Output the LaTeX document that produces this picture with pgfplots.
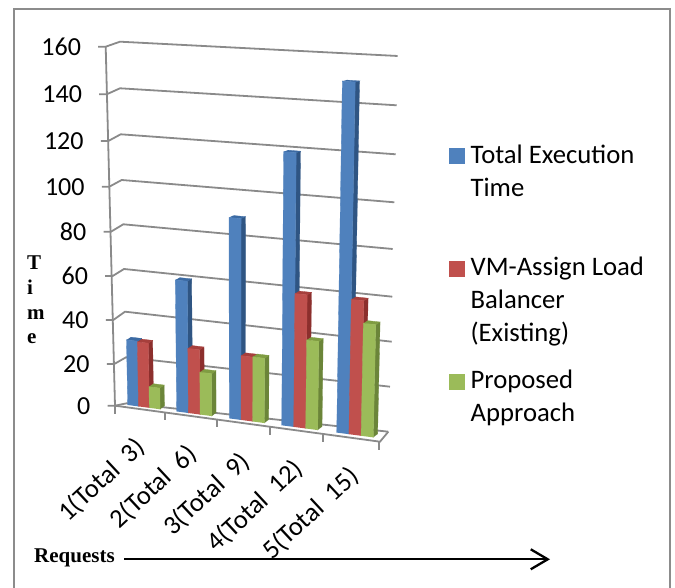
\documentclass[border=0pt]{standalone}
\usepackage{fontspec}
\setmainfont{Carlito}
\newfontfamily\labelfont{Liberation Serif}
\usepackage{pgfplots}
\usepackage{pgfplotstable}
\pgfplotsset{compat=1.18}
\usetikzlibrary{arrows.meta}

\definecolor{blueF}{HTML}{4F81BD}
\definecolor{blueS}{HTML}{2F5583}
\definecolor{blueT}{HTML}{3B6AA3}
\definecolor{redF}{HTML}{C0504D}
\definecolor{redS}{HTML}{8C2F2D}
\definecolor{redT}{HTML}{A63F3C}
\definecolor{greenF}{HTML}{9BBB59}
\definecolor{greenS}{HTML}{6B8539}
\definecolor{greenT}{HTML}{7F9C42}
\definecolor{frame}{HTML}{8C8C8C}
\definecolor{wall}{HTML}{8A8A8A}

% start, width: where each group stands on the floor, in px of the reference
\pgfplotstableread{
start width total vm proposed
127.7 10.8 28.8 28.5 9.3
176.7 11.7 57.7 28.3 18.5
229.3 11.7 87.4 27.9 28.0
281.7 12.0 118.0 57.4 38.0
336.7 12.2 150.2 57.5 47.9
}\bars

% px of the reference -> axis units
\newcommand\dx[1]{((#1)-88)/52}
\newcommand\dy[1]{(405.7-(#1))/2.25}
\newcommand\topt[3]{% name, X, Y
  \pgfmathsetmacro\tmpa{\dx{#2}}%
  \pgfmathsetmacro\tmpb{\dy{#3}}%
  \expandafter\xdef\csname #1\endcsname{(\tmpa,\tmpb)}%
}
% perspective of the 3d chart: floor X, value, depth 0/1
\newcommand\corner[4]{%
  \pgfmathsetmacro\Xb{#2}%
  \pgfmathsetmacro\Xt{\Xb+(-0.045+0.000385*(\Xb-120))*#3}%
  \pgfmathsetmacro\Yt{405+0.132*(\Xb-127.7)-(2.26+0.000388*(\Xb-127))*#3}%
  \pgfmathsetmacro\Xd{\Xt+4.3*#4}%
  \pgfmathsetmacro\Yd{\Yt-(0.8+0.0065*(\Yt-40))*#4}%
  \topt{#1}{\Xd}{\Yd}%
}
\newcommand\barfaces[6]{% X, width, value, front, side, top
  \corner{pa}{#1}{0}{0}%
  \corner{pb}{#1+#2}{0}{0}%
  \corner{pc}{#1+#2}{#3}{0}%
  \corner{pd}{#1}{#3}{0}%
  \corner{pe}{#1+#2}{0}{1}%
  \corner{pf}{#1+#2}{#3}{1}%
  \corner{pg}{#1}{#3}{1}%
  \edef\temp{%
    \noexpand\addplot[fill=#5,draw=#5,line width=0.3pt,forget plot] coordinates {\pb\pc\pf\pe};
    \noexpand\addplot[fill=#6,draw=#6,line width=0.3pt,forget plot] coordinates {\pd\pc\pf\pg};
    \noexpand\addplot[fill=#4,draw=#4,line width=0.3pt,forget plot] coordinates {\pa\pd\pc\pb};
  }\temp
}
\newcommand\wallline[7]{% value, front X Y, back X Y, right X Y
  \topt{qa}{#2-7.5}{#3}\topt{qb}{#2}{#3}\topt{qc}{#4}{#5}\topt{qd}{#6}{#7}%
  \edef\temp{%
    \noexpand\addplot[wall,line width=1.8pt,forget plot] coordinates {\qa\qb\qc\qd};
    \noexpand\node[anchor=east,inner sep=0pt,font=\noexpand\fontsize{26}{26}\noexpand\selectfont] at \qa {#1\noexpand\hspace*{17pt}};
  }\temp
}
\newcommand\floortick[3]{% label, X, Y
  \topt{qa}{#2}{#3}\topt{qb}{#2}{#3+8}\topt{qc}{#2-24}{#3+31}%
  \edef\temp{%
    \noexpand\addplot[wall,line width=1.8pt,forget plot] coordinates {\qa\qb};
    \noexpand\node[anchor=east,rotate=43,inner sep=0pt,font=\noexpand\fontsize{26.5}{27}\noexpand\selectfont] at \qc {#1};
  }\temp
}
\newcommand\entry[1]{\parbox[t]{200pt}{\fontsize{26.7}{33}\selectfont #1}}

\begin{document}
\begin{tikzpicture}
\path[use as bounding box] (0,0) rectangle (675pt,588pt);
\begin{axis}[
at={(0,0)},
anchor=south west,
scale only axis,
width=675pt,
height=588pt,
xmin=-1.6923,
xmax=11.2885,
ymin=-81.0222,
ymax=180.3111,
hide axis,
clip=false,
legend style={at={(0.6652,0.7488)},anchor=north west,draw=none,fill=none,inner sep=0pt,
  row sep=92.6pt,column sep=6pt,
  nodes={inner sep=0pt,anchor=base west,text height=15pt,text depth=5pt}},
legend cell align=left,
legend image code/.code={\fill[#1] (0pt,0pt) rectangle (15pt,15pt);},
]

% outer frame, open at the bottom of the crop
\topt{qa}{14}{600}\topt{qb}{14}{9.5}\topt{qc}{670}{9.5}\topt{qd}{670}{600}
\edef\temp{\noexpand\addplot[frame,line width=2pt,forget plot] coordinates {\qa\qb\qc\qd};}\temp

\wallline{160}{105.7}{46.7}{120}{41.7}{397.7}{56}
\wallline{140}{106.7}{94.3}{120}{88.3}{396.7}{105.3}
\wallline{120}{108.3}{141}{120.7}{134.3}{395.7}{154.3}
\wallline{100}{109.3}{186.7}{121.7}{180}{394.3}{202.3}
\wallline{80}{111}{231.7}{123.3}{224.3}{392.7}{249}
\wallline{60}{112.7}{276}{124}{269}{392.3}{296.7}
\wallline{40}{113.3}{320}{125}{311.7}{391.7}{341.7}
\wallline{20}{114.3}{364}{126}{357.3}{390}{386.7}
\wallline{0}{115}{405.7}{126.7}{403.3}{388.3}{431.7}

% left axis and floor edge
\topt{qa}{105.7}{46.7}\topt{qb}{115}{405.7}\topt{qc}{380}{441.7}\topt{qd}{388.3}{431.7}
\edef\temp{\noexpand\addplot[wall,line width=1.8pt,forget plot] coordinates {\qa\qb\qc\qd};}\temp

\topt{qa}{115}{405.7}\topt{qb}{115}{414}
\edef\temp{\noexpand\addplot[wall,line width=1.8pt,forget plot] coordinates {\qa\qb};}\temp
\floortick{1(Total\ \ 3)}{165}{412.5}
\floortick{2(Total\ \ 6)}{216.7}{419.5}
\floortick{3(Total\ \ 9)}{270}{426.8}
\floortick{4(Total\ \ 12)}{323.3}{434}
\floortick{5(Total\ \ 15)}{379}{441.6}

\pgfplotsforeachungrouped \r in {0,...,4}{
  \pgfplotstablegetelem{\r}{start}\of\bars\let\gs\pgfplotsretval
  \pgfplotstablegetelem{\r}{width}\of\bars\let\gw\pgfplotsretval
  \pgfplotstablegetelem{\r}{total}\of\bars\let\va\pgfplotsretval
  \pgfplotstablegetelem{\r}{vm}\of\bars\let\vb\pgfplotsretval
  \pgfplotstablegetelem{\r}{proposed}\of\bars\let\vc\pgfplotsretval
  \barfaces{\gs}{\gw}{\va}{blueF}{blueS}{blueT}
  \barfaces{\gs+\gw}{\gw}{\vb}{redF}{redS}{redT}
  \barfaces{\gs+2*\gw}{\gw}{\vc}{greenF}{greenS}{greenT}
}

\addlegendimage{blueF}
\addlegendentry{\entry{Total Execution\\Time}}
\addlegendimage{redF}
\addlegendentry{\entry{VM-Assign Load\\Balancer\\(Existing)}}
\addlegendimage{greenF}
\addlegendentry{\entry{Proposed\\Approach}}

% hand-added labels of the figure
\topt{qa}{27}{270}\topt{qb}{27}{295}\topt{qc}{27}{319.3}\topt{qd}{27}{344}
\edef\temp{%
  \noexpand\node[anchor=base west,inner sep=0pt,font=\noexpand\labelfont\noexpand\bfseries\noexpand\fontsize{21}{21}\noexpand\selectfont] at \qa {T};
  \noexpand\node[anchor=base west,inner sep=0pt,font=\noexpand\labelfont\noexpand\bfseries\noexpand\fontsize{21}{21}\noexpand\selectfont] at \qb {i};
  \noexpand\node[anchor=base west,inner sep=0pt,font=\noexpand\labelfont\noexpand\bfseries\noexpand\fontsize{21}{21}\noexpand\selectfont] at \qc {m};
  \noexpand\node[anchor=base west,inner sep=0pt,font=\noexpand\labelfont\noexpand\bfseries\noexpand\fontsize{21}{21}\noexpand\selectfont] at \qd {e};
}\temp
\topt{qa}{34}{562.5}\topt{qb}{124}{559.3}\topt{qc}{550}{559.3}
\edef\temp{%
  \noexpand\node[anchor=base west,inner sep=0pt,font=\noexpand\labelfont\noexpand\bfseries\noexpand\fontsize{21}{21}\noexpand\selectfont] at \qa {Requests};
  \noexpand\addplot[black,line width=2.3pt,-{Straight Barb[length=17pt,width=20pt]},forget plot] coordinates {\qb\qc};
}\temp
\end{axis}
\end{tikzpicture}
\end{document}
